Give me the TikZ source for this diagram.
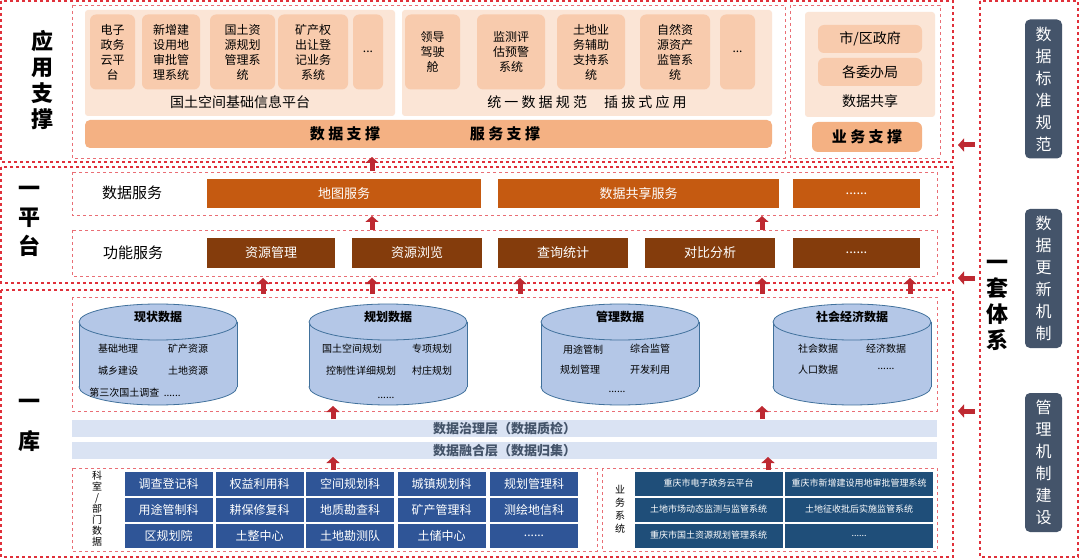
\documentclass[tikz,border=0pt]{standalone}
\usepackage{fontspec}
\setmainfont{Noto Sans CJK SC}
\usetikzlibrary{positioning,shapes,shapes.geometric,arrows.meta}
\definecolor{redline}{HTML}{E0303A}
\definecolor{peachA}{HTML}{FBE5D6}
\definecolor{peachB}{HTML}{F8CBAD}
\definecolor{peachC}{HTML}{F4B183}
\definecolor{rustA}{HTML}{C55A11}
\definecolor{rustB}{HTML}{843C0C}
\definecolor{cylfill}{HTML}{B4C7E7}
\definecolor{cylline}{HTML}{41719C}
\definecolor{layerfill}{HTML}{DAE3F3}
\definecolor{layertext}{HTML}{44546A}
\definecolor{deptblue}{HTML}{2F5597}
\definecolor{sysblue}{HTML}{1F4E79}
\definecolor{slate}{HTML}{44546A}
\tikzset{
  outerbox/.style={draw=redline, dashed, line width=1.2pt},
  innerbox/.style={draw=redline!70, dashed, line width=0.6pt},
  appbox/.style={fill=peachB, rounded corners=6pt, align=center, font=\fontsize{12}{15}\selectfont},
  svcbox/.style={fill=rustA, text=white, font=\fontsize{13}{15}\selectfont},
  funbox/.style={fill=rustB, text=white, font=\fontsize{13}{15}\selectfont},
  deptbox/.style={fill=deptblue, draw=white, text=white, font=\fontsize{12}{14}\selectfont},
  sysbox/.style={fill=sysblue, draw=white, text=white, font=\fontsize{9}{11}\selectfont},
  layer/.style={fill=layerfill, text=layertext, font=\bfseries\fontsize{13}{15}\selectfont},
  upmark/.style={-{Triangle[width=13pt,length=6pt]}, line width=5pt, redline!85!black},
  cylpart/.style={fill=cylfill, draw=cylline, line width=0.8pt}
}
\newcommand{\pbox}[4]{\node[#4, minimum width=#2pt, minimum height=#3pt, inner sep=0pt] at #1}
\begin{document}
\begin{tikzpicture}[x=1pt, y=-1pt]
\useasboundingbox (0,0) rectangle (1080,559);
\fill[white] (0,0) rectangle (1080,559);
% frames
\draw[outerbox] (1,1) rectangle (953,162);
\draw[outerbox] (1,167) rectangle (953,283);
\draw[outerbox] (1,290) rectangle (953,557);
\draw[outerbox] (980,1) rectangle (1078,557);
\node (lblapp) [font=\bfseries\fontsize{22}{26}\selectfont, align=center] at (42,80) {应\\用\\支\\撑};
\node (lblplat) [font=\bfseries\fontsize{22}{29}\selectfont, align=center] at (30,221) {一\\平\\台};
\node (lbllib) [font=\bfseries\fontsize{22}{40}\selectfont, align=center] at (30,425) {一\\库};
\node (lblsys) [font=\bfseries\fontsize{22}{26}\selectfont, align=center] at (997,305) {一\\套\\体\\系};
% application layer
\draw[innerbox] (72,5) rectangle (785,158);
\draw[innerbox] (790,5) rectangle (940,158);
\fill[peachA, rounded corners=3pt] (85,10) rectangle (395,116);
\fill[peachA, rounded corners=3pt] (402,10) rectangle (772,116);
\pbox{(112.5,52)}{45}{75}{appbox} (egov) {电子\\政务\\云平\\台};
\pbox{(171,52)}{58}{75}{appbox} (newland) {新增建\\设用地\\审批管\\理系统};
\pbox{(242.5,52)}{65}{75}{appbox} (plansys) {国土资\\源规划\\管理系\\统};
\pbox{(313,52)}{70}{75}{appbox} (mineral) {矿产权\\出让登\\记业务\\系统};
\pbox{(368,52)}{30}{75}{appbox} (moreA) {...};
\pbox{(432.5,52)}{55}{75}{appbox} (cockpit) {领导\\驾驶\\舱};
\pbox{(511,52)}{68}{75}{appbox} (monitor) {监测评\\估预警\\系统};
\pbox{(591,52)}{68}{75}{appbox} (landbiz) {土地业\\务辅助\\支持系\\统};
\pbox{(675,52)}{70}{75}{appbox} (natres) {自然资\\源资产\\监管系\\统};
\pbox{(737.5,52)}{35}{75}{appbox} (moreB) {...};
\node (basepf) [font=\fontsize{14}{16}\selectfont] at (240,102) {国土空间基础信息平台};
\node (unify) [font=\fontsize{14}{16}\selectfont] at (587,102) {统 一 数 据 规 范 \quad 插 拔 式 应 用};
\fill[peachC, rounded corners=5pt] (85,120) rectangle (772,148);
\node (datasup) [font=\bfseries\fontsize{15}{17}\selectfont] at (345,134) {数 据 支 撑};
\node (svcsup) [font=\bfseries\fontsize{15}{17}\selectfont] at (505,134) {服 务 支 撑};
\fill[peachA, rounded corners=3pt] (805,12) rectangle (935,117);
\pbox{(870,39)}{104}{28}{appbox, font=\fontsize{14}{16}\selectfont} (cityg) {市/区政府};
\pbox{(870,72)}{104}{28}{appbox, font=\fontsize{14}{16}\selectfont} (offices) {各委办局};
\node (share) [font=\fontsize{14}{16}\selectfont] at (870,101) {数据共享};
\pbox{(867,137)}{110}{30}{appbox, fill=peachC, font=\bfseries\fontsize{15}{17}\selectfont} (bizsup) {业 务 支 撑};
% platform layer
\draw[innerbox] (72,172) rectangle (937,215);
\draw[innerbox] (72,230) rectangle (937,276);
\node (datasvc) [font=\fontsize{15}{17}\selectfont] at (132,193) {数据服务};
\node (funsvc) [font=\fontsize{15}{17}\selectfont] at (133,253) {功能服务};
\pbox{(344,193.5)}{274}{29}{svcbox} (mapsvc) {地图服务};
\pbox{(638.5,193.5)}{281}{29}{svcbox} (sharesvc) {数据共享服务};
\pbox{(856.5,193.5)}{127}{29}{svcbox} (moresvc) {......};
\foreach \cx/\w/\txt [count=\i] in {271/128/资源管理, 417/130/资源浏览, 563/130/查询统计, 710/130/对比分析, 856.5/127/{......}}
  \pbox{(\cx,253)}{\w}{30}{funbox} (fun\i) {\txt};
% library
\draw[innerbox] (72,297) rectangle (937,411);
\foreach \cx/\ttl [count=\i] in {158/现状数据, 388/规划数据, 620/管理数据, 852/社会经济数据}{
  \draw[cylpart] (\cx,387) ellipse (79 and 18);
  \fill[cylfill] (\cx-79,322) rectangle (\cx+79,387);
  \draw[cylline, line width=0.8pt] (\cx-79,322) -- (\cx-79,387) (\cx+79,322) -- (\cx+79,387);
  \draw[cylpart] (\cx,322) ellipse (79 and 18);
  \node[font=\bfseries\fontsize{12}{14}\selectfont] (dbt\i) at (\cx,317) {\ttl};
}
\tikzset{dbtxt/.style={font=\fontsize{10}{12}\selectfont}}
\node[dbtxt] at (118,349) {基础地理}; \node[dbtxt] at (188,349) {矿产资源};
\node[dbtxt] at (118,371) {城乡建设}; \node[dbtxt] at (188,371) {土地资源};
\node[dbtxt] at (135,393) {第三次国土调查 \ ......};
\node[dbtxt] at (352,349) {国土空间规划}; \node[dbtxt] at (432,349) {专项规划};
\node[dbtxt] at (361,371) {控制性详细规划}; \node[dbtxt] at (432,371) {村庄规划};
\node[dbtxt] at (386,398) {......};
\node[dbtxt] at (583,350) {用途管制}; \node[dbtxt] at (650,349) {综合监管};
\node[dbtxt] at (580,370) {规划管理}; \node[dbtxt] at (650,370) {开发利用};
\node[dbtxt] at (617,392) {......};
\node[dbtxt] at (818,349) {社会数据}; \node[dbtxt] at (886,349) {经济数据};
\node[dbtxt] at (818,370) {人口数据}; \node[dbtxt] at (886,369) {......};
\pbox{(504.5,428.5)}{865}{17}{layer} (govern) {数据治理层（数据质检）};
\pbox{(504.5,450.5)}{865}{17}{layer} (fusion) {数据融合层（数据归集）};
% sources
\draw[innerbox] (72,468) rectangle (597,551);
\draw[innerbox] (602,468) rectangle (937,551);
\node (deptlbl) [font=\fontsize{10}{11}\selectfont, align=center] at (97,509) {科\\室\\/\\部\\门\\数\\据};
\node (syslbl) [font=\fontsize{10}{13}\selectfont, align=center] at (620,509) {业\\务\\系\\统};
\foreach \cx/\cy/\txt [count=\i] in {168.5/483.5/调查登记科, 259.5/483.5/权益利用科, 350/483.5/空间规划科, 441.5/483.5/城镇规划科, 534/483.5/规划管理科,
  168.5/509.5/用途管制科, 259.5/509.5/耕保修复科, 350/509.5/地质勘查科, 441.5/509.5/矿产管理科, 534/509.5/测绘地信科,
  168.5/535.5/区规划院, 259.5/535.5/土整中心, 350/535.5/土地勘测队, 441.5/535.5/土储中心, 534/535.5/{......}}
  \pbox{(\cx,\cy)}{89}{25}{deptbox} (dept\i) {\txt};
\foreach \cx/\cy/\txt [count=\i] in {708.5/483.5/重庆市电子政务云平台, 859/483.5/重庆市新增建设用地审批管理系统,
  708.5/509.5/土地市场动态监测与监管系统, 859/509.5/土地征收批后实施监管系统,
  708.5/535.5/重庆市国土资源规划管理系统, 859/535.5/{......}}
  \pbox{(\cx,\cy)}{149}{25}{sysbox} (sys\i) {\txt};
% standards column
\foreach \cy/\txt [count=\i] in {89/{数\\据\\标\\准\\规\\范}, 278.5/{数\\据\\更\\新\\机\\制}, 462.5/{管\\理\\机\\制\\建\\设}}
  \node[fill=slate, text=white, rounded corners=5pt, minimum width=37pt, minimum height=139pt,
    align=center, font=\fontsize{16}{22}\selectfont] (std\i) at (1043.5,\cy) {\txt};
% arrows
\foreach \ax/\ya/\yb in {372/171/157, 372/230/216, 762/230/216,
  263/294/278, 372/294/278, 520/294/278, 762/294/278, 910/294/278,
  333/419/406, 762/419/406, 333/470/457, 768/470/457}
  \draw[upmark] (\ax,\ya) -- (\ax,\yb);
\foreach \ay in {145, 278, 411}
  \draw[upmark] (975,\ay) -- (958,\ay);
\end{tikzpicture}
\end{document}
